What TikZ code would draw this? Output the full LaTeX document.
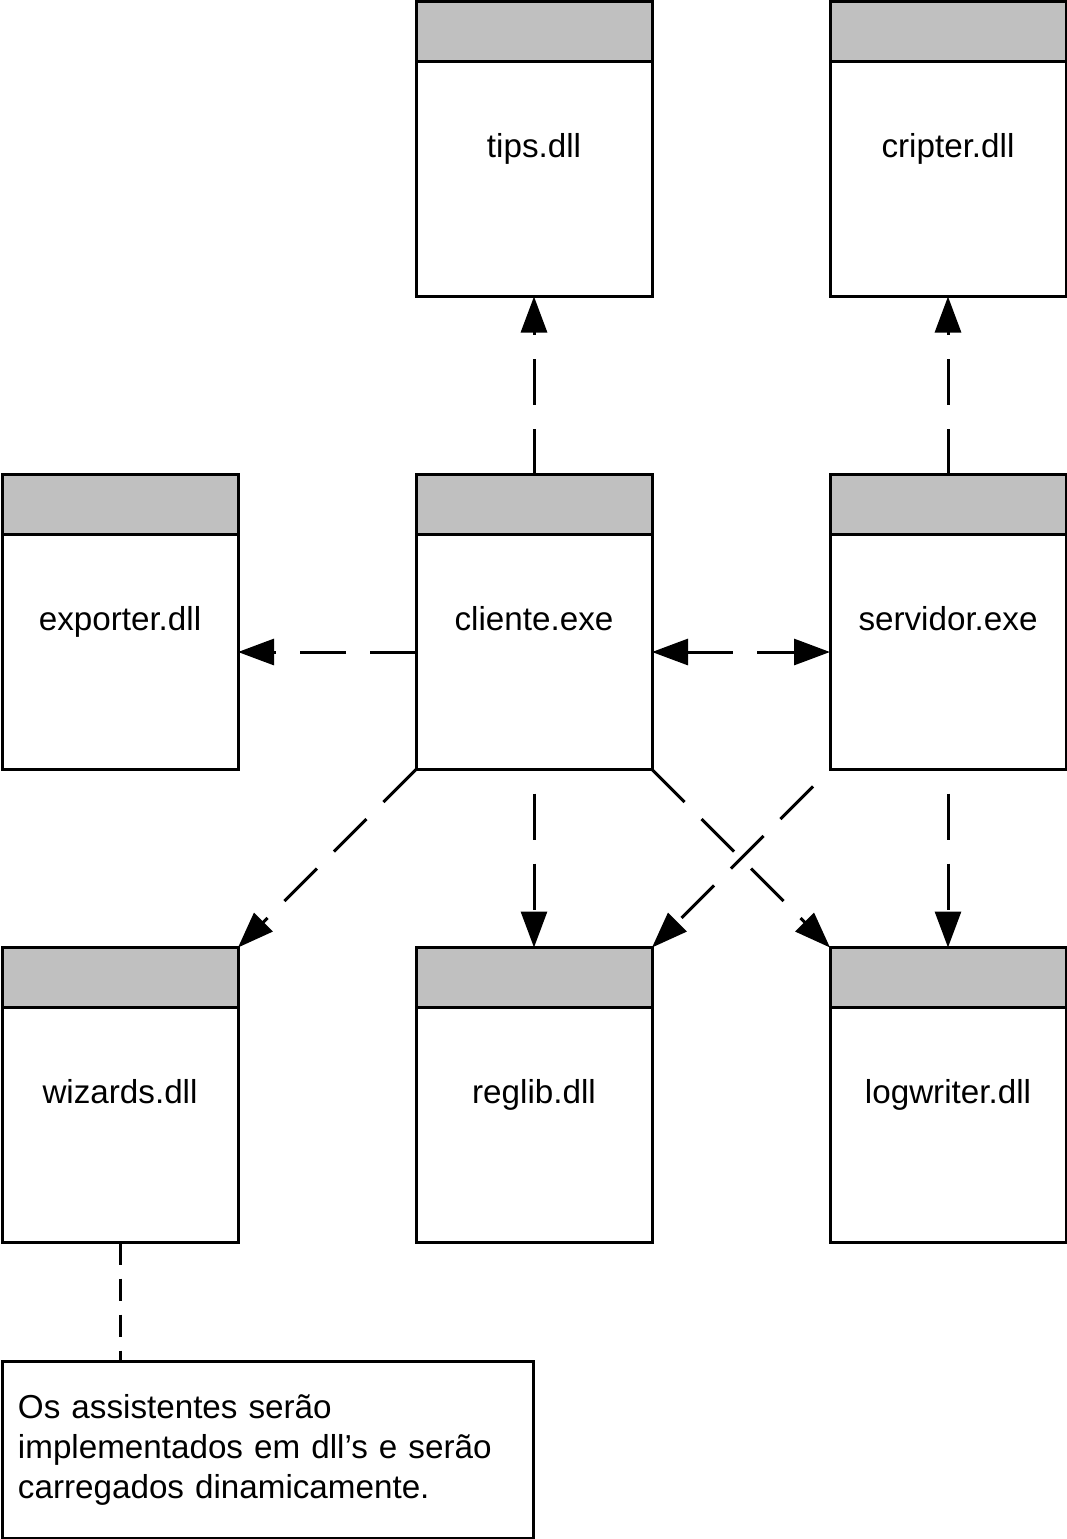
\documentclass[tikz,border=0pt]{standalone}
\usepackage{fontspec}
\setmainfont{Liberation Sans}
\usetikzlibrary{arrows.meta,positioning}
\definecolor{headgray}{RGB}{192,192,192}
\tikzset{bigtri/.tip={Triangle[length=18pt,width=13pt]}}

\begin{document}
\begin{tikzpicture}[x=0.5pt,y=-0.5pt,node distance=89pt,
	comp/.style={draw,line width=1.5pt,outer sep=0pt,inner sep=0pt,
		minimum width=118pt,minimum height=147.5pt,text height=12pt,text depth=3.5pt,
		font=\fontsize{16.6}{20}\selectfont,
		path picture={\fill[headgray] (path picture bounding box.north west) rectangle ([yshift=-30pt]path picture bounding box.north east);
			\draw[line width=1.5pt] ([yshift=-30pt]path picture bounding box.north west) -- ([yshift=-30pt]path picture bounding box.north east);}},
	dep/.style={line width=1.5pt,dash pattern=on 23pt off 12pt,-bigtri},
	gapfirst/.style={dash phase=23pt},
	note/.style={draw,line width=1.5pt,outer sep=0pt,inner sep=8pt,
		minimum width=265.5pt,minimum height=88.5pt,text width=249.5pt,align=left,
		font=\fontsize{16.6}{20}\selectfont}]
		\useasboundingbox (0,0) rectangle (1067,1539);
		% components
		\node[comp] (cliente) at (534,622) {cliente.exe};
		\node[comp,above=of cliente] (tips) {tips.dll};
		\node[comp,left=of cliente] (exporter) {exporter.dll};
		\node[comp,right=of cliente] (servidor) {servidor.exe};
		\node[comp,above=of servidor] (cripter) {cripter.dll};
		\node[comp,below=of exporter] (wizards) {wizards.dll};
		\node[comp,below=of cliente] (reglib) {reglib.dll};
		\node[comp,below=of servidor] (logwriter) {logwriter.dll};
		\node[note,below right=59.5pt and 0pt of wizards.south west] (nota) {Os assistentes serão\\implementados em dll’s e serão\\carregados dinamicamente.};
		% dependencies
		\draw[dep] (cliente.north) -- (tips.south);
		\draw[dep] (servidor.north) -- (cripter.south);
		\draw[dep] ([yshift=-15pt]cliente.west) -- ([yshift=-15pt]exporter.east);
		\draw[dep,bigtri-bigtri] ([yshift=-15pt]cliente.east) -- ([yshift=-15pt]servidor.west);
		\draw[dep] (cliente.south west) -- (wizards.north east);
		\draw[dep,gapfirst] (cliente.south) -- (reglib.north);
		\draw[dep] (cliente.south east) -- (logwriter.north west);
		\draw[dep,gapfirst] (servidor.south west) -- (reglib.north east);
		\draw[dep,gapfirst] (servidor.south) -- (logwriter.north);
		\draw[line width=1.5pt,dash pattern=on 11pt off 7pt] (wizards.south) -- (nota.north -| wizards.south);
	\end{tikzpicture}
\end{document}
